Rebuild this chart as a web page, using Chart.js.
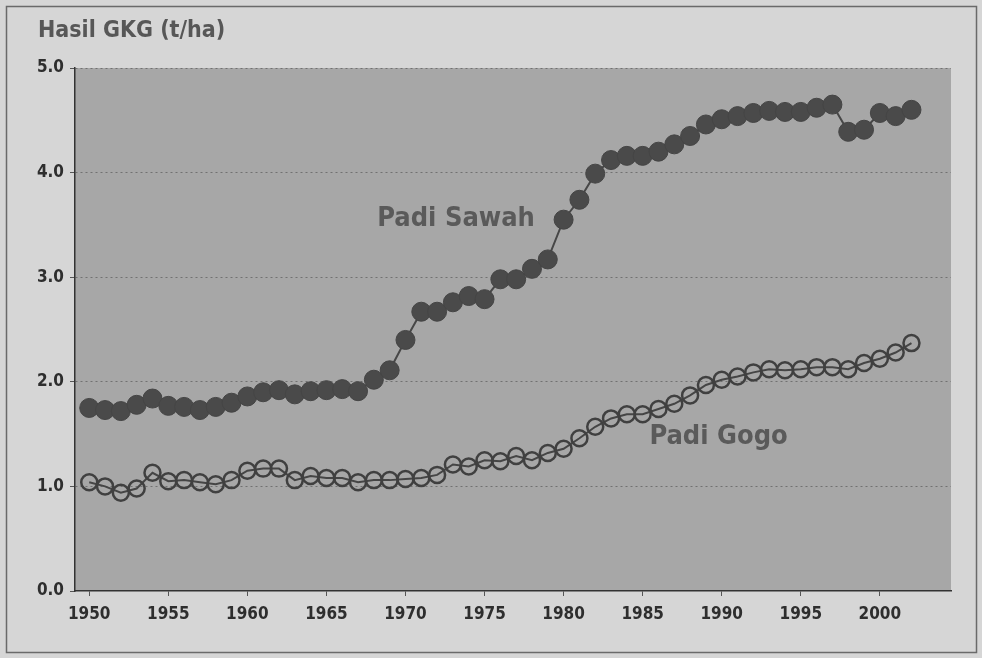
<!DOCTYPE html>
<html>
<head>
<meta charset="utf-8">
<script src="https://cdn.jsdelivr.net/npm/chart.js@4/dist/chart.umd.min.js"></script>
<style>
  html, body { margin: 0; padding: 0; background: #d6d6d6; }
  #wrap { width: 982px; height: 658px; position: relative; }
</style>
</head>
<body>
<div id="wrap"><canvas id="grafik" width="982" height="658"></canvas></div>
<script>
// Data hasil GKG (t/ha)
const tahun = [
  1950, 1951, 1952, 1953, 1954, 1955, 1956, 1957, 1958, 1959,
  1960, 1961, 1962, 1963, 1964, 1965, 1966, 1967, 1968, 1969,
  1970, 1971, 1972, 1973, 1974, 1975, 1976, 1977, 1978, 1979,
  1980, 1981, 1982, 1983, 1984, 1985, 1986, 1987, 1988, 1989,
  1990, 1991, 1992, 1993, 1994, 1995, 1996, 1997, 1998, 1999,
  2000, 2001, 2002
];
const padiSawah = [
  1.75, 1.73, 1.72, 1.78, 1.84, 1.77, 1.76, 1.73, 1.76, 1.80,
  1.86, 1.90, 1.92, 1.88, 1.91, 1.92, 1.93, 1.91, 2.02, 2.11,
  2.40, 2.67, 2.67, 2.76, 2.82, 2.79, 2.98, 2.98, 3.08, 3.17,
  3.55, 3.74, 3.99, 4.12, 4.16, 4.16, 4.20, 4.27, 4.35, 4.46,
  4.51, 4.54, 4.57, 4.59, 4.58, 4.58, 4.62, 4.65, 4.39, 4.41,
  4.57, 4.54, 4.60
];
const padiGogo = [
  1.04, 1.00, 0.94, 0.98, 1.13, 1.05, 1.06, 1.04, 1.02, 1.06,
  1.15, 1.17, 1.17, 1.06, 1.10, 1.08, 1.08, 1.04, 1.06, 1.06,
  1.07, 1.08, 1.11, 1.21, 1.19, 1.25, 1.24, 1.29, 1.25, 1.32,
  1.36, 1.46, 1.57, 1.65, 1.69, 1.69, 1.74, 1.79, 1.87, 1.97,
  2.02, 2.05, 2.09, 2.12, 2.11, 2.12, 2.14, 2.14, 2.12, 2.18,
  2.22, 2.28, 2.37
];
const tickTahun = [1950, 1955, 1960, 1965, 1970, 1975, 1980, 1985, 1990, 1995, 2000];
const tickHasil = [0, 1, 2, 3, 4, 5];

const fontNarrow = "'Liberation Sans Narrow', 'Arial Narrow', 'DejaVu Sans Condensed', sans-serif";

// Latar, bingkai, judul dan label seri
const hiasan = {
  id: 'hiasan',
  beforeDraw(chart) {
    const ctx = chart.ctx;
    const a = chart.chartArea;
    ctx.save();
    ctx.fillStyle = '#d6d6d6';
    ctx.fillRect(0, 0, chart.width, chart.height);
    ctx.strokeStyle = '#6a6a6a';
    ctx.lineWidth = 1.5;
    ctx.strokeRect(6.5, 6.5, chart.width - 12, chart.height - 12);
    ctx.fillStyle = '#a7a7a7';
    ctx.fillRect(a.left, a.top, a.right - a.left, a.bottom - a.top);
    ctx.restore();
  },
  afterDraw(chart) {
    const ctx = chart.ctx;
    const x = chart.scales.x;
    const y = chart.scales.y;
    ctx.save();
    ctx.fillStyle = '#575757';
    ctx.font = 'bold 23px ' + fontNarrow;
    ctx.textBaseline = 'middle';
    ctx.textAlign = 'left';
    ctx.fillText('Hasil GKG (t/ha)', 38, 31);
    ctx.font = 'bold 27px ' + fontNarrow;
    ctx.textAlign = 'center';
    ctx.fillStyle = '#5a5a5a';
    ctx.fillText('Padi Sawah', x.getPixelForValue(1973.2), y.getPixelForValue(3.56));
    ctx.fillText('Padi Gogo', x.getPixelForValue(1989.8), y.getPixelForValue(1.47));
    ctx.restore();
  }
};

const ctx = document.getElementById('grafik').getContext('2d');
new Chart(ctx, {
  type: 'line',
  data: {
    datasets: [
      {
        label: 'Padi Sawah',
        data: tahun.map((t, i) => ({ x: t, y: padiSawah[i] })),
        borderColor: '#474747',
        borderWidth: 2,
        pointRadius: 9.5,
        pointBackgroundColor: '#4a4a4a',
        pointBorderColor: '#454545',
        pointBorderWidth: 1,
        tension: 0
      },
      {
        label: 'Padi Gogo',
        data: tahun.map((t, i) => ({ x: t, y: padiGogo[i] })),
        borderColor: '#454545',
        borderWidth: 2,
        pointRadius: 8,
        pointBackgroundColor: 'rgba(0,0,0,0)',
        pointBorderColor: '#404040',
        pointBorderWidth: 2.5,
        tension: 0
      }
    ]
  },
  options: {
    responsive: false,
    animation: false,
    devicePixelRatio: 1,
    layout: { padding: { top: 68, right: 31, bottom: 16, left: 0 } },
    plugins: {
      legend: { display: false },
      tooltip: { enabled: false }
    },
    scales: {
      x: {
        type: 'linear',
        min: 1949.1,
        max: 2004.5,
        afterBuildTicks(scale) {
          scale.ticks = tickTahun.map(v => ({ value: v }));
        },
        afterFit(scale) { scale.height = 51; },
        border: { color: '#333', width: 1.5 },
        grid: { drawOnChartArea: false, tickLength: 5, color: '#555' },
        ticks: {
          autoSkip: false,
          maxRotation: 0,
          padding: 8,
          color: '#2e2e2e',
          font: { family: fontNarrow, size: 17, weight: 'bold' },
          callback: v => String(v)
        }
      },
      y: {
        min: 0,
        max: 5,
        afterBuildTicks(scale) {
          scale.ticks = tickHasil.map(v => ({ value: v }));
        },
        afterFit(scale) { scale.width = 75; },
        border: { color: '#333', width: 1.5, dash: [2, 3] },
        grid: {
          color: c => c.tick && c.tick.value === 0 ? 'rgba(0,0,0,0)' : 'rgba(70,70,70,0.55)',
          lineWidth: 1,
          tickLength: 5,
          tickColor: '#555'
        },
        ticks: {
          padding: 6,
          color: '#2e2e2e',
          font: { family: fontNarrow, size: 17, weight: 'bold' },
          callback: v => v.toFixed(1)
        }
      }
    }
  },
  plugins: [hiasan]
});
</script>
</body>
</html>
